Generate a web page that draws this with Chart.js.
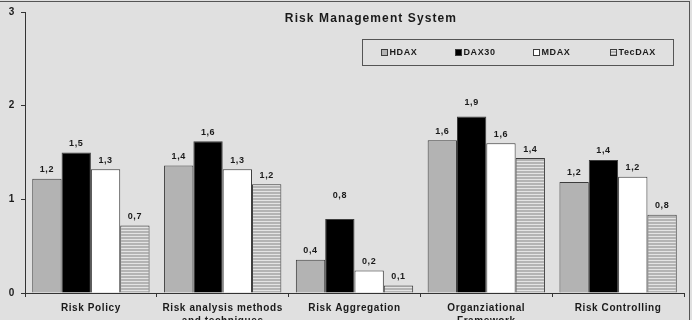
<!DOCTYPE html>
<html>
<head>
<meta charset="utf-8">
<script src="https://cdn.jsdelivr.net/npm/chart.js@4.4.1/dist/chart.umd.min.js"></script>
<style>
  html, body { margin: 0; padding: 0; background: #e0e0e0; }
  canvas { display: block; }
</style>
</head>
<body>
<canvas id="c" width="692" height="320"></canvas>
<script>
const categories = [
  "Risk Policy",
  ["Risk analysis methods", "and techniques"],
  "Risk Aggregation",
  ["Organziational", "Framework"],
  "Risk Controlling"
];
const seriesNames = ["HDAX", "DAX30", "MDAX", "TecDAX"];
const hdax   = [1.22, 1.36, 0.355, 1.63, 1.185];
const dax30  = [1.50, 1.62, 0.79, 1.885, 1.42];
const mdax   = [1.32, 1.32, 0.24, 1.60, 1.24];
const tecdax = [0.72, 1.16, 0.08, 1.44, 0.835];
const yTicks = [0, 1, 2, 3];
const chartTitle = "Risk Management System";

const FONT = "'Liberation Sans', Arial, sans-serif";
const BG = '#e0e0e0';
const EDGE = '#3c3c3c';

function stripePattern() {
  const p = document.createElement('canvas');
  p.width = 4; p.height = 3;
  const g = p.getContext('2d');
  g.fillStyle = '#b4b4b4'; g.fillRect(0, 0, 4, 3);
  g.fillStyle = '#e4e4e4'; g.fillRect(0, 2, 4, 1);
  return document.getElementById('c').getContext('2d').createPattern(p, 'repeat');
}
const fills = ['#b3b3b3', '#000000', '#ffffff', stripePattern()];
const values = [hdax, dax30, mdax, tecdax];

// extra lift (px) for a few labels that sit higher in the original
const labelLift = { "1-2": 14, "1-3": 5 };

const bgPlugin = {
  id: 'bg',
  beforeInit(chart) { chart.ctx.letterSpacing = '0.6px'; },
  beforeUpdate(chart) { chart.ctx.letterSpacing = '0.6px'; },
  beforeDraw(chart) {
    const ctx = chart.ctx;
    ctx.save();
    ctx.fillStyle = BG;
    ctx.fillRect(0, 0, chart.width, chart.height);
    ctx.strokeStyle = '#555';
    ctx.lineWidth = 1;
    ctx.strokeRect(-0.5, 1.5, 690, 330);
    ctx.restore();
    ctx.letterSpacing = '0.6px';
  }
};

const decorPlugin = {
  id: 'decor',
  afterDatasetsDraw(chart) {
    const ctx = chart.ctx;
    ctx.save();
    // value labels
    ctx.font = "bold 9px " + FONT;
    ctx.letterSpacing = '0.6px';
    ctx.fillStyle = '#1a1a1a';
    ctx.textAlign = 'center';
    ctx.textBaseline = 'middle';
    chart.data.datasets.forEach((ds, di) => {
      chart.getDatasetMeta(di).data.forEach((bar, i) => {
        const v = Math.round(ds.data[i] * 10) / 10;
        const txt = v.toFixed(1).replace('.', ',');
        const lift = labelLift[di + '-' + i] || 0;
        ctx.fillText(txt, bar.x, bar.y - 9 - lift);
      });
    });
    // title
    ctx.font = "bold 12px " + FONT;
    ctx.letterSpacing = '1.1px';
    ctx.fillStyle = '#1a1a1a';
    ctx.fillText(chartTitle, 371, 18.5);
    // legend
    ctx.fillStyle = BG;
    ctx.strokeStyle = '#555';
    ctx.lineWidth = 1;
    ctx.strokeRect(362.5, 39.5, 311, 26);
    const xs = [381, 455, 533, 610];
    ctx.font = "bold 9px " + FONT;
    ctx.letterSpacing = '0.6px';
    ctx.textAlign = 'left';
    seriesNames.forEach((n, i) => {
      ctx.fillStyle = fills[i];
      ctx.fillRect(xs[i] + 0.5, 49.5, 6, 6);
      ctx.strokeStyle = EDGE;
      ctx.strokeRect(xs[i] + 0.5, 49.5, 6, 6);
      ctx.fillStyle = '#1a1a1a';
      ctx.fillText(n, xs[i] + 8.5, 52.5);
    });
    ctx.restore();
  }
};

new Chart(document.getElementById('c'), {
  type: 'bar',
  data: {
    labels: categories,
    datasets: seriesNames.map((n, i) => ({
      label: n,
      data: values[i],
      backgroundColor: fills[i],
      borderColor: EDGE,
      borderWidth: 1,
      categoryPercentage: 0.89,
      barPercentage: 1.0
    }))
  },
  options: {
    responsive: false,
    animation: false,
    devicePixelRatio: 1,
    layout: { padding: { top: 12, right: 8, left: 0, bottom: 0 } },
    plugins: { legend: { display: false }, tooltip: { enabled: false }, title: { display: false } },
    scales: {
      x: {
        grid: { offset: true, drawOnChartArea: false, drawTicks: true, tickLength: 4, color: '#333' },
        border: { color: '#333', width: 1 },
        ticks: {
          color: '#1a1a1a',
          font: { family: FONT, size: 10, weight: 'bold', lineHeight: 1.35 },
          padding: 4,
          maxRotation: 0, autoSkip: false
        },
        afterFit(s) { s.height = 27; }
      },
      y: {
        min: 0, max: 3,
        afterBuildTicks(s) { s.ticks = yTicks.map(v => ({ value: v })); },
        grid: { drawOnChartArea: false, drawTicks: true, tickLength: 4, color: '#333' },
        border: { color: '#333', width: 1 },
        ticks: {
          color: '#1a1a1a',
          font: { family: FONT, size: 10, weight: 'bold' },
          padding: 6
        },
        afterFit(s) { s.width = 25; }
      }
    }
  },
  plugins: [bgPlugin, decorPlugin]
});
</script>
</body>
</html>
